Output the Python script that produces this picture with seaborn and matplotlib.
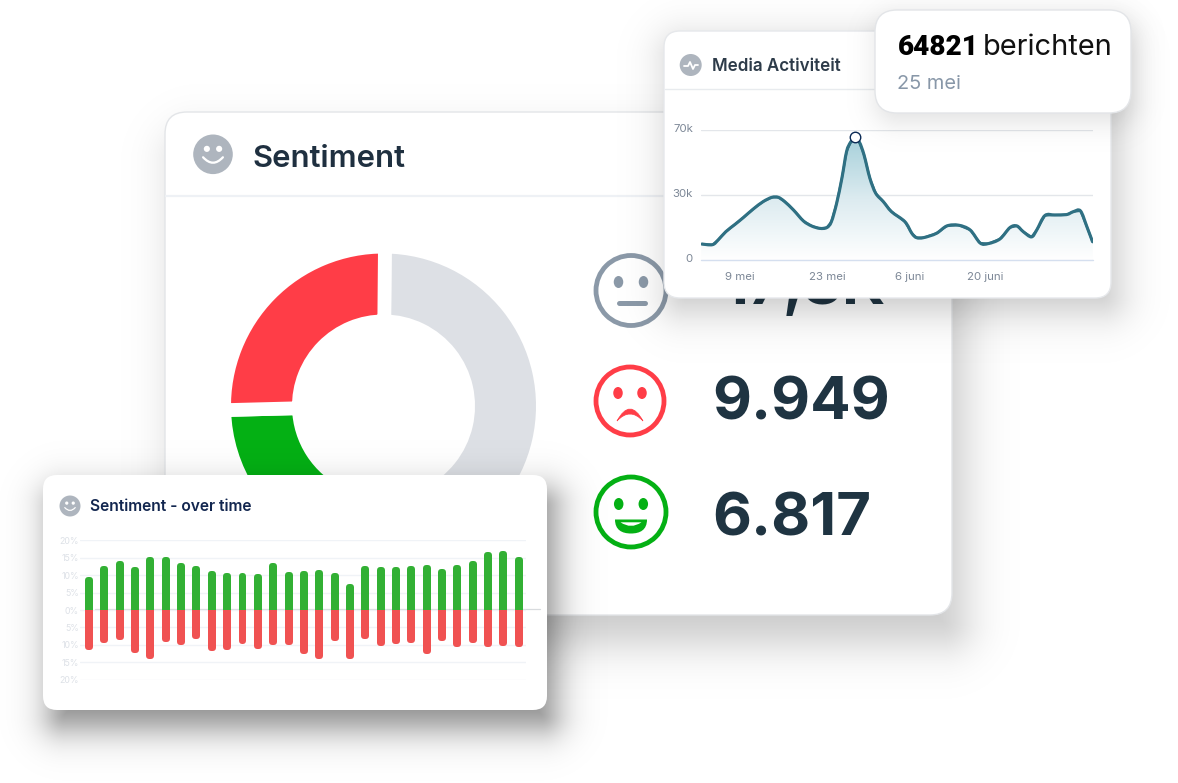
import numpy as np
import pandas as pd
import seaborn as sns
import matplotlib
matplotlib.use("Agg")
import matplotlib.pyplot as plt
from matplotlib.patches import FancyBboxPatch, Circle, Ellipse, PathPatch
from matplotlib.path import Path
from matplotlib.transforms import Bbox, TransformedBbox, ScaledTranslation

# ---- data ----
donut_labels = ["Neutraal", "Positief", "Negatief"]
donut_values = [22170, 6817, 9949]
donut_colors = ["#DDE0E5", "#04B014", "#FF3D47"]

pos_share = [9.5, 12.5, 14, 12.2, 15.3, 15.3, 13.5, 12.5, 11.2, 10.6, 10.6, 10.2, 13.5, 11, 11.2,
             11.4, 10.6, 7.6, 12.5, 12.2, 12.3, 12.5, 12.8, 11.7, 13, 14, 16.5, 16.9, 15.1]
neg_share = [11.4, 9.6, 8.5, 12.3, 14.2, 9.2, 10, 8.2, 11.7, 11.5, 9.7, 11.2, 10, 10, 12.5,
             14, 8.8, 14, 8.2, 10.3, 9.7, 9.4, 12.7, 8.8, 10.5, 9.4, 10.5, 10.2, 10.5]
share_ticks = [-20, -15, -10, -5, 0, 5, 10, 15, 20]
share_labels = ["20%", "15%", "10%", "5%", "0%", "5%", "10%", "15%", "20%"]

media_day = [0, 1.9, 2.9, 4.2, 5.8, 7.2, 8.9, 10.6, 12.1, 13.2, 14.3, 15.8, 17.5, 18.9, 20.3, 21.5, 22.3,
             23.2, 24.1, 24.9, 25.6, 26.3, 27.1, 27.9, 28.9, 29.9, 31.2, 32.6, 34.9, 36.1, 36.9, 38.1,
             40.3, 42.1, 44.1, 46.1, 47.8, 49.2, 51.2, 52.9, 54.1, 55.2, 56.6, 57.5, 58.9, 60.6, 62.6,
             63.8, 65, 66.1, 67.1]
media_k = [8.8, 8.4, 11, 15.4, 19.4, 23, 27.6, 31.6, 33.9, 33.9, 31.6, 27.1, 21.2, 18.5, 17.2, 17.6, 20.8,
           30.7, 44.2, 58.5, 63.6, 65.7, 63.6, 56.7, 44.2, 36.1, 31.6, 26.2, 20.8, 14.5, 12.2, 12.2,
           14.5, 18.5, 18.9, 16.3, 9.3, 9, 11.5, 17.6, 18.5, 15.4, 12.6, 16.3, 24.1, 24.4, 24.6,
           26.2, 26.6, 18.1, 9.7]
media_peak = (26.3, 66.2)
media_xticks = [6.6, 21.6, 35.7, 48.7]
media_xlabels = ["9 mei", "23 mei", "6 juni", "20 juni"]
media_yticks = [0, 35, 70]
media_ylabels = ["0", "30k", "70k"]

W, H = 1178, 783
sns.set_theme(style="white")
FONT = ["Inter", "DejaVu Sans"]
plt.rcParams["font.family"] = FONT
fig = plt.figure(figsize=(W / 100, H / 100), dpi=100, facecolor="white")
PT = 0.72


def layer(z):
    ax = fig.add_axes([0, 0, 1, 1], zorder=z)
    ax.set_xlim(0, W)
    ax.set_ylim(H, 0)
    ax.axis("off")
    ax.patch.set_visible(False)
    return ax


def px_axes(x0, y0, x1, y1, z):
    ax = fig.add_axes([x0 / W, 1 - y1 / H, (x1 - x0) / W, (y1 - y0) / H], zorder=z)
    ax.patch.set_visible(False)
    return ax


def card(ax, x0, y0, x1, y1, r, edge=None):
    ax.add_patch(FancyBboxPatch((x0, y0), x1 - x0, y1 - y0, boxstyle=f"round,pad=0,rounding_size={r}",
                                fc="white", ec=edge if edge else "none", lw=1 if edge else 0))


def shadow(ax, x0, y0, x1, y1, r, dx, dy, soft, alpha):
    xx, yy = np.meshgrid(np.arange(W) + 0.5, np.arange(H) + 0.5)
    cx, cy = (x0 + x1) / 2 + dx, (y0 + y1) / 2 + dy
    qx = np.abs(xx - cx) - ((x1 - x0) / 2 - r)
    qy = np.abs(yy - cy) - ((y1 - y0) / 2 - r)
    d = np.hypot(np.maximum(qx, 0), np.maximum(qy, 0)) + np.minimum(np.maximum(qx, qy), 0) - r
    rgba = np.zeros((H, W, 4))
    rgba[..., 3] = alpha / (1 + np.exp(np.clip(d / soft, -30, 30)))
    ax.imshow(rgba, extent=[0, W, H, 0], aspect="auto", interpolation="nearest", zorder=0)
    ax.set_xlim(0, W)
    ax.set_ylim(H, 0)


def smile_icon(ax, cx, cy, r, color="#AEB5BE"):
    ax.add_patch(Circle((cx, cy), r, fc=color, ec="none"))
    s = r / 20
    for dx in (-6.2, 6.2):
        ax.add_patch(Circle((cx + dx * s, cy - 5.5 * s), 3.1 * s, fc="white", ec="none"))
    ax.add_patch(PathPatch(Path([(cx - 10 * s, cy + 3 * s), (cx, cy + 14 * s), (cx + 10 * s, cy + 3 * s)],
                                [Path.MOVETO, Path.CURVE3, Path.CURVE3]),
                           fc="none", ec="white", lw=2.3 * s * PT, capstyle="round"))


def ring(ax, cx, cy, r, color):
    ax.add_patch(Circle((cx, cy), r, fc="white", ec=color, lw=4.8 * PT))


def eyes(ax, cx, cy, dx0, dx1, color):
    for dx in (dx0, dx1):
        ax.add_patch(Ellipse((cx + dx, cy), 9.5, 12, fc=color, ec="none"))


# ---- main card ----
base = layer(0)
shadow(base, 165, 112, 952, 615, 22, 12, 28, 14, 0.22)
card(base, 165, 112, 952, 615, 22, edge="#E3E5E8")
base.plot([166, 952], [195.7, 195.7], color="#EEF1F5", lw=1.6)
smile_icon(base, 213, 154.3, 19.8)
base.text(253, 167, "Sentiment", fontsize=31 * PT, fontweight=600, color="#1F3040", va="baseline")

# ---- donut ----
R = 152.5
pad = 12
cx, cy = 383.5, 406
dax = px_axes(cx - R - pad, cy - R - pad, cx + R + pad, cy + R + pad, 1)
dax.pie(donut_values, colors=donut_colors, startangle=89.5, counterclock=False,
        radius=R + 6.85, wedgeprops=dict(width=61 + 13.7, edgecolor="white", linewidth=13.7 * PT, joinstyle="miter"))
dax.set_xlim(-R - pad, R + pad)
dax.set_ylim(-R - pad, R + pad)

# ---- faces and totals ----
fl = layer(2)
NUM = 60 * PT
ring(fl, 631, 290.5, 35, "#8B99A8")
eyes(fl, 631, 282, -12.5, 12.5, "#8B99A8")
fl.plot([619, 645], [303, 303], color="#8B99A8", lw=5 * PT, solid_capstyle="round")
fl.text(722, 304, "17,8K", fontsize=NUM, fontweight=700, color="#1F3442", va="baseline")

ring(fl, 630, 401, 34, "#FF3D47")
eyes(fl, 630, 393, -12, 12, "#FF3D47")
fl.add_patch(PathPatch(Path([(617, 421), (630, 397), (643, 421), (630, 407), (617, 421)],
                            [Path.MOVETO, Path.CURVE3, Path.CURVE3, Path.CURVE3, Path.CURVE3]),
                       fc="#FF3D47", ec="#FF3D47", lw=0.5))
fl.text(712, 420, "9.949", fontsize=NUM, fontweight=700, color="#1F3442", va="baseline")

ring(fl, 631, 512, 35, "#04B014")
eyes(fl, 631, 504, -12.3, 12.3, "#04B014")
fl.add_patch(PathPatch(Path([(615, 519.5), (647, 519.5), (647, 530), (640, 533.5), (631, 533.5),
                             (622, 533.5), (615, 530), (615, 519.5)],
                            [Path.MOVETO, Path.LINETO, Path.CURVE4, Path.CURVE4, Path.CURVE4,
                             Path.CURVE4, Path.CURVE4, Path.CURVE4]),
                       fc="#04B014", ec="none"))
fl.add_patch(PathPatch(Path([(620.5, 522.3), (641.5, 522.3), (631, 529.5), (620.5, 522.3)],
                            [Path.MOVETO, Path.LINETO, Path.CURVE3, Path.CURVE3]),
                       fc="white", ec="none"))
fl.text(712, 536, "6.817", fontsize=NUM, fontweight=700, color="#1F3442", va="baseline")

# ---- sentiment over time ----
ol = layer(3)
shadow(ol, 43, 475, 547, 710, 14, 8, 18, 11, 0.47)
card(ol, 43, 475, 547, 710, 14)
smile_icon(ol, 70, 506, 10.5)
ol.text(90, 511, "Sentiment - over time", fontsize=15.6 * PT, fontweight=600, color="#12264F", va="baseline")
ol.plot([95, 540], [608.5, 608.5], color="#D8DBDE", lw=0.9)

bax = px_axes(80, 540.3, 526, 679.7, 4)
days = np.arange(len(pos_share))
LW = 6 * PT
frame = pd.DataFrame({"bar": days, "pos": pos_share, "neg": -np.array(neg_share)})
sns.barplot(data=frame, x="bar", y="pos", color="#32B034", saturation=1, width=0.13, ax=bax, zorder=3)
n_pos = len(bax.patches)
sns.barplot(data=frame, x="bar", y="neg", color="#F05252", saturation=1, width=0.13, ax=bax, zorder=3)
bax.set_xlim(-0.587, 28.47)
bax.set_ylim(-20, 20)
trim = 3 * 40 / 139.4
for i, p in enumerate(bax.patches):
    above = i < n_pos
    col = "#32B034" if above else "#F05252"
    p.set_edgecolor(col)
    p.set_linewidth(LW)
    p.set_joinstyle("round")
    h = p.get_height()
    p.set_height(h - trim if above else h + trim)
    box = Bbox([[-1, 0], [30, 25]]) if above else Bbox([[-1, -25], [30, 0]])
    p.set_clip_box(TransformedBbox(box, bax.transData))
bax.set_yticks(share_ticks)
bax.set_yticklabels(share_labels, fontsize=8.8 * PT, color="#DDE1E7")
bax.set_xticks([])
bax.set_xlabel("")
bax.set_ylabel("")
bax.tick_params(axis="y", length=0, pad=0.8)
bax.grid(axis="y", color="#F0F3F7", lw=1)
bax.set_axisbelow(True)
sns.despine(ax=bax, left=True, bottom=True)

# ---- media activity ----
ml = layer(5)
shadow(ml, 664, 31, 1111, 298, 16, 6, 12, 13, 0.24)
card(ml, 664, 31, 1111, 298, 16, edge="#E6E8EB")
ml.plot([665, 1111], [88.5, 88.5], color="#E8EBEE", lw=1)
ml.add_patch(Circle((690.7, 65), 11, fc="#AEB5BE", ec="none"))
ml.plot([684, 688, 690, 693, 695, 698], [66, 66, 62, 69, 65, 65], color="white", lw=1.3, solid_joinstyle="round")
ml.text(712, 71, "Media Activiteit", fontsize=17 * PT, fontweight=600, color="#2D3B49", va="baseline")

lax = px_axes(701.3, 130.3, 1093.3, 260.3, 6)
pts = np.column_stack([media_day, media_k])
verts = [tuple(pts[0])]
codes = [Path.MOVETO]
for i in range(len(pts) - 1):
    p0 = pts[max(i - 1, 0)]
    p1 = pts[i]
    p2 = pts[i + 1]
    p3 = pts[min(i + 2, len(pts) - 1)]
    verts += [tuple(p1 + (p2 - p0) / 6), tuple(p2 - (p3 - p1) / 6), tuple(p2)]
    codes += [Path.CURVE4] * 3
curve = Path(verts, codes)
area = Path(verts + [(pts[-1, 0], 0), (0, 0), (0, 0)], codes + [Path.LINETO, Path.LINETO, Path.CLOSEPOLY])

grad = np.linspace(0, 1, 256).reshape(-1, 1)
cmap = matplotlib.colors.LinearSegmentedColormap.from_list("g", ["#A6D0DA", "#DCEBF0", "#FFFFFF"])
img = lax.imshow(grad, extent=[0, 67.2, 0, 66], aspect="auto", cmap=cmap, origin="upper", zorder=1)
img.set_clip_path(area, transform=lax.transData)
media = pd.DataFrame({"day": media_day, "k": media_k})
sns.lineplot(data=media, x="day", y="k", color="#2F7083", lw=1.6, ax=lax, sort=False, errorbar=None, zorder=3)
lax.add_patch(PathPatch(curve, fc="none", ec="#2F7083", lw=2.25, capstyle="butt", joinstyle="round", zorder=3))
lax.scatter([media_peak[0]], [media_peak[1]], s=57, fc="white", ec="#0B2A55", lw=1.0, zorder=5, clip_on=False)
lax.set_xlim(0, 67.2)
lax.set_ylim(0, 70)
lax.set_xticks(media_xticks)
lax.set_xticklabels(media_xlabels, fontsize=11.4 * PT, color="#7C8796")
lax.set_yticks(media_yticks)
lax.set_yticklabels(media_ylabels, fontsize=11.4 * PT, color="#7C8796")
lax.set_xlabel("")
lax.set_ylabel("")
lax.tick_params(axis="both", length=0)
lax.tick_params(axis="x", pad=8.5)
lax.tick_params(axis="y", pad=6)
for lab in lax.get_yticklabels():
    lab.set_transform(lab.get_transform() + ScaledTranslation(0, 0.02, fig.dpi_scale_trans))
lax.grid(axis="y", color="#E3E6EA", lw=1)
lax.set_axisbelow(True)
sns.despine(ax=lax, left=True, top=True, right=True, bottom=True)
lax.axhline(0, color="#D5DFEF", lw=1, zorder=2, clip_on=False)

# ---- tooltip ----
tl = layer(7)
shadow(tl, 875, 10, 1131, 113, 22, 3, 8, 9, 0.13)
card(tl, 875, 10, 1131, 113, 22, edge="#E3E5E8")
tl.text(898, 55, "64821", fontsize=28 * PT, fontweight=900, family=["Roboto", "DejaVu Sans"], color="#000000", va="baseline")
tl.text(983, 55, "berichten", fontsize=29 * PT, fontweight=400, color="#111111", va="baseline")
tl.text(897, 89, "25 mei", fontsize=20 * PT, fontweight=400, color="#8897A8", va="baseline")

fig.savefig("out.png", dpi=100, facecolor="white")
